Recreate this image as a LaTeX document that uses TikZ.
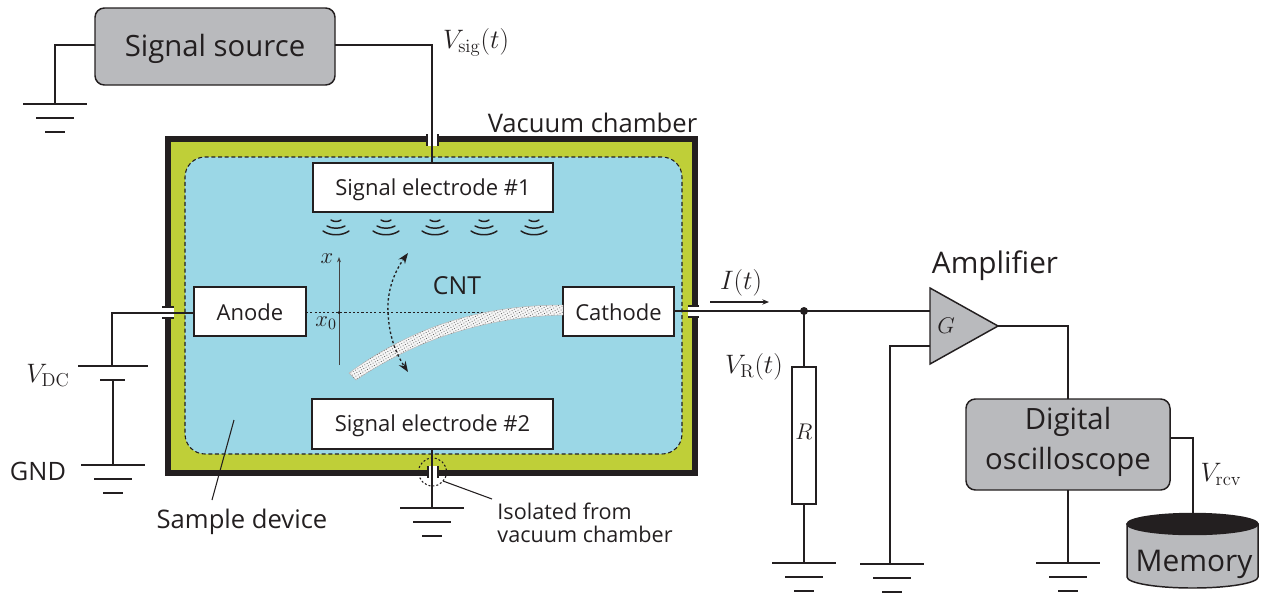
\RequirePackage{fix-cm}
\documentclass[tikz,border=0pt]{standalone}
\usepackage[no-math]{fontspec}
\setmainfont{Open Sans}
\usetikzlibrary{arrows.meta,patterns.meta}
\definecolor{ink}{HTML}{231F20}
\definecolor{greenc}{HTML}{BFCF38}
\definecolor{bluec}{HTML}{9BD7E6}
\definecolor{grayc}{HTML}{B9BABD}
\newcommand{\fs}[1]{\fontsize{#1}{#1}\selectfont}
\newcommand{\dn}[2]{\raisebox{#1}[\height][\depth]{#2}}
\tikzset{
  wire/.style={draw=ink,line width=1.1pt},
  box/.style={draw=ink,line width=1.1pt,fill=white,inner sep=0pt,outer sep=0pt,font=\fs{16.5},text=ink},
  graybox/.style={draw=ink,line width=1.1pt,fill=grayc,rounded corners=7pt,inner sep=0pt,outer sep=0pt,text=ink},
  lbl/.style={inner sep=0pt,outer sep=0pt,text=ink,font=\fs{19.2},align=center},
  mth/.style={inner sep=0pt,outer sep=0pt,text=ink,font=\fs{20}},
  mths/.style={inner sep=0pt,outer sep=0pt,text=ink,font=\fs{17}},
  lip/.style={draw=ink,line width=1.5pt},
  gnd/.pic={
    \draw[draw=ink,line width=1.6pt] (-32,0) -- (32,0) (-19,14) -- (19,14) (-10,28) -- (10,28);
  },
  wave/.pic={
    \draw[draw=ink,line width=1.1pt,line cap=round]
      (-5,-6) .. controls (-2,-4) and (2,-4) .. (5,-6)
      (-9,0) .. controls (-4,3) and (4,3) .. (9,0)
      (-13,5) .. controls (-6,10) and (6,10) .. (13,5);
  }
}
\begin{document}
\begin{tikzpicture}[x=0.75pt,y=-0.75pt]
\useasboundingbox (0,0) rectangle (1262,597);
% chamber
\node[draw=ink,line width=4.5pt,fill=greenc,minimum width=527*0.75pt,minimum height=334*0.75pt,inner sep=0pt,outer sep=0pt] (chamber) at (431,306) {};
\node[draw=ink,dash pattern=on 3pt off 2pt,line width=0.8pt,fill=bluec,rounded corners=15pt,minimum width=497*0.75pt,minimum height=297*0.75pt,inner sep=0pt,outer sep=0pt] (sample) at (433.5,305.5) {};
% feedthrough slots
\fill[white] (428,134) rectangle (437,146);
\fill[white] (428,466) rectangle (437,478);
\fill[white] (162,308) rectangle (174,318);
\fill[white] (688,307) rectangle (699,317);
\draw[lip] (427,134) -- (427,146) (438,134) -- (438,146);
\draw[lip] (428,466) -- (428,478) (438,466) -- (438,478);
\draw[lip] (162,307) -- (174,307) (162,318) -- (174,318);
\draw[lip] (688,306) -- (699,306) (688,317) -- (699,317);
% nodes
\node[box,minimum width=240*0.75pt,minimum height=49*0.75pt] (sig1) at (433,187.5) {\dn{-1.5pt}{Signal electrode \#1}};
\node[box,minimum width=241*0.75pt,minimum height=50*0.75pt] (sig2) at (432.5,424) {\dn{-1.5pt}{Signal electrode \#2}};
\node[box,minimum width=112*0.75pt,minimum height=49*0.75pt] (anode) at (250,311.5) {\dn{-0.5pt}{Anode}};
\node[box,minimum width=111*0.75pt,minimum height=49*0.75pt] (cathode) at (618.5,311.5) {\dn{-0.5pt}{Cathode}};
\node[graybox,minimum width=240*0.75pt,minimum height=77*0.75pt,font=\fs{22}] (source) at (215,46.5) {\dn{-1.5pt}{Signal source}};
\node[graybox,minimum width=204*0.75pt,minimum height=91*0.75pt,font=\fs{22}] (scope) at (1068,444.5) {\dn{1.5pt}{\begin{tabular}{@{}c@{}}Digital\\[6.5pt]oscilloscope\end{tabular}}};
% coordinates
\coordinate (gs) at (55,104);
\coordinate (gdc) at (113,465);
\coordinate (ge) at (432,508);
\coordinate (gr) at (804,563);
\coordinate (ga) at (892,564);
\coordinate (go) at (1068,563);
\coordinate (junc) at (804,311);
\coordinate (A) at (930,288);
\coordinate (B) at (930,364);
\coordinate (C) at (998,326);
% amplifier
\draw[draw=ink,line width=1.1pt,fill=grayc,line join=miter] (A) -- (B) -- (C) -- cycle;
\node[mths] (gain) at (946,326) {$G$};
% memory
\coordinate (mtop) at (1193,513.5);
\path[draw=ink,line width=1.1pt,fill=grayc] (1127,524) -- (1127,577) arc[start angle=180,end angle=360,x radius=65.5,y radius=-11] -- (1258,524) -- cycle;
\path[fill=ink,draw=ink,line width=1.1pt] (1192.5,524) ellipse[x radius=65.5,y radius=10.5];
\node[lbl,font=\fs{22.4}] (memory) at (1194,564) {Memory};
% wires
\draw[wire] (source.west |- 0,45) -- (55,45) -- (gs);
\draw[wire] (source.east |- 0,45) -- (432,45) -- (sig1.north -| 432,0);
\draw[wire] (anode.west |- 0,313) -- (112,313) -- (112,366);
\draw[wire] (78,366) -- (148,366);
\draw[draw=ink,line width=1.6pt] (100,380) -- (125,380);
\draw[wire] (113,380) -- (gdc);
\draw[wire] (sig2.south -| 432,0) -- (ge);
\draw[wire] (cathode.east |- 0,311) -- (930,311);
\node[draw=ink,fill=white,line width=1.1pt,minimum width=24*0.75pt,minimum height=137*0.75pt,inner sep=0pt,outer sep=0pt] (res) at (804,435.5) {};
\node[mths] (rl) at (804,432) {$R$};
\draw[wire] (junc) -- (res.north);
\draw[wire] (res.south) -- (gr);
\fill[ink] (junc) circle[radius=4];
\draw[wire] (930,346) -- (890,346) -- (890,564);
\draw[wire] (C) -- (1068,326) -- (scope.north);
\draw[wire] (scope.south) -- (go);
\draw[wire] (scope.east |- 0,438) -- (1193,438) -- (mtop);
\pic at (gs) {gnd};
\pic at (gdc) {gnd};
\pic at (ge) {gnd};
\pic at (gr) {gnd};
\pic at (ga) {gnd};
\pic at (go) {gnd};
% waves
\foreach \wx in {336,386,435,484,534}{\pic at (\wx,226) {wave};}
% dotted mid line and axis
\draw[draw=ink,line width=0.8pt,dash pattern=on 1.6pt off 1.6pt] (anode.east |- 0,312.5) -- (cathode.west |- 0,312.5);
\draw[draw=ink!85,line width=0.7pt,-{Stealth[length=4pt,width=3pt]}] (339,365) -- (339,257);
\fill[ink] (339,312.5) circle[radius=1.5];
\node[mths] (xl) at (327,259) {$x$};
\node[mths] (x0) at (326,323) {$x_0$};
% CNT
\path[draw=gray!60,line width=0.3pt,fill=white!92!gray] (563,305) .. controls (480,305) and (410,328) .. (349,373) -- (356,380) .. controls (415,340) and (485,317) .. (563,315) -- cycle;
\path[pattern={Dots[distance=2pt,radius=0.42pt,angle=30]},pattern color=gray!80!black] (563,305) .. controls (480,305) and (410,328) .. (349,373) -- (356,380) .. controls (415,340) and (485,317) .. (563,315) -- cycle;
% swing arrow
\draw[draw=ink,line width=1pt,dash pattern=on 1.8pt off 1.8pt,{Stealth[length=8pt,width=6pt]}-{Stealth[length=8pt,width=6pt]}] (408,253) .. controls (392,275) and (387,295) .. (388,312) .. controls (389,335) and (395,352) .. (408,372);
% labels
\node[lbl,font=\fs{18.6}] (cnt) at (457,286) {CNT};
\node[lbl] (vac) at (592.5,123) {Vacuum chamber};
\node[lbl,font=\fs{22.3}] (amp) at (995,266) {Amplifier};
\node[lbl,font=\fs{19}] (gndl) at (38,471) {GND};
\node[lbl] (samp) at (242,522) {Sample device};
\node[lbl,font=\fs{16.2},align=left] (iso) at (585,523) {Isolated from\\[1pt]vacuum chamber};
\node[mth] (vsig) at (476,42) {$V_{\mathrm{sig}}(t)$};
\node[mth] (vdc) at (48,375) {$V_{\mathrm{DC}}$};
\node[mth] (it) at (741,283) {$I(t)$};
\node[mth] (vr) at (754,367) {$V_{\mathrm{R}}(t)$};
\node[mth] (vrcv) at (1221,474) {$V_{\mathrm{rcv}}$};
\draw[draw=ink,line width=0.8pt,-{Stealth[length=5pt,width=4pt]}] (710,302) -- (769,302);
% leaders
\draw[draw=ink,line width=0.8pt] (234,420) -- (212,500);
\draw[draw=ink,line width=0.8pt,dash pattern=on 1.5pt off 1.5pt] (432.5,472) circle[radius=14];
\draw[draw=ink,line width=0.8pt] (443,481) -- (492,499);
\end{tikzpicture}
\end{document}
